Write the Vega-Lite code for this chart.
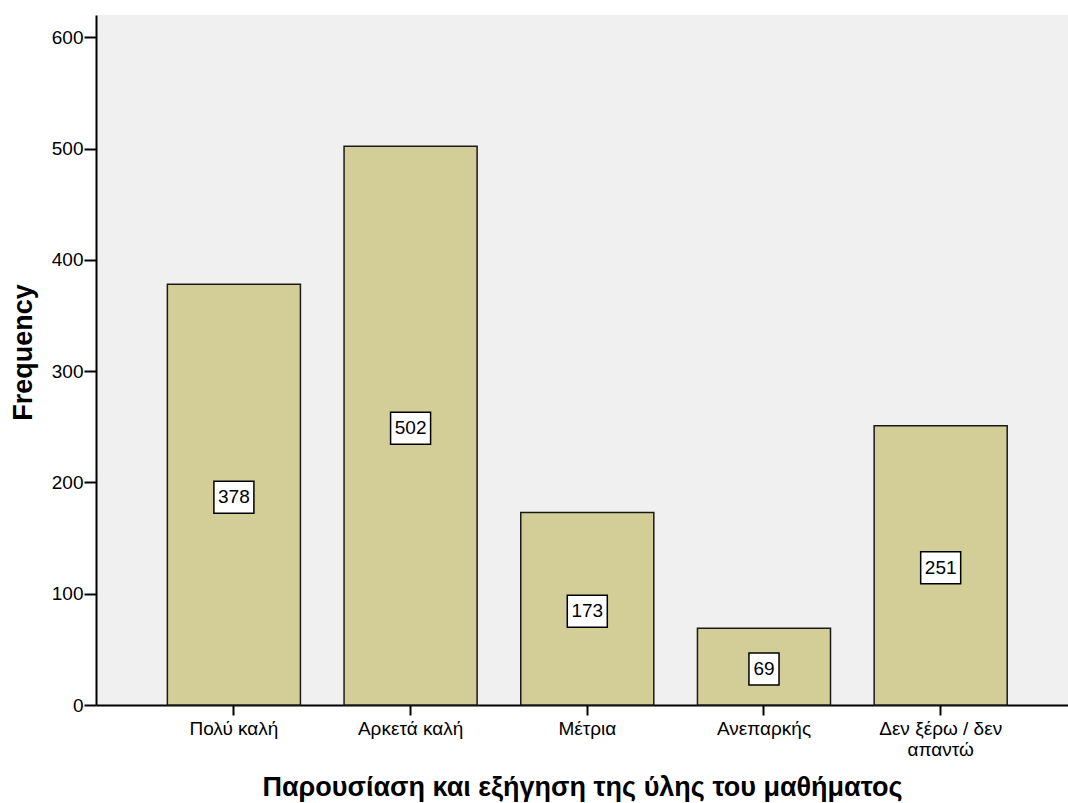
{
  "$schema": "https://vega.github.io/schema/vega-lite/v6.json",
  "width": 972,
  "height": 690,
  "autosize": {"type": "none"},
  "padding": {"left": 96, "top": 15, "right": 0, "bottom": 98},
  "background": "white",
  "config": {
    "view": {"fill": "#F0F0F0", "stroke": null},
    "font": "Liberation Sans"
  },
  "data": {
    "values": [
      {"category": "Πολύ καλή", "value": 378},
      {"category": "Αρκετά καλή", "value": 502},
      {"category": "Μέτρια", "value": 173},
      {"category": "Ανεπαρκής", "value": 69},
      {"category": "Δεν ξέρω / δεν απαντώ", "value": 251}
    ]
  },
  "layer": [
    {
      "mark": {"type": "bar", "fill": "#D3CE97", "stroke": "#1a1a1a", "strokeWidth": 1.5},
      "encoding": {
        "x": {
          "field": "category",
          "type": "nominal",
          "sort": null,
          "scale": {"paddingInner": 0.247, "paddingOuter": 0.374, "align": 0.54},
          "axis": {
            "labelAngle": 0,
            "labelFontSize": 19,
            "labelColor": "black",
            "labelPadding": 4,
            "labelLimit": 0,
            "labelLineHeight": 21,
            "labelExpr": "datum.value == 'Δεν ξέρω / δεν απαντώ' ? ['Δεν ξέρω / δεν', 'απαντώ'] : datum.label",
            "domainColor": "black",
            "domainWidth": 2,
            "tickColor": "black",
            "tickWidth": 2,
            "tickSize": 10,
            "title": "Παρουσίαση και εξήγηση της ύλης του μαθήματος",
            "titleFontSize": 27,
            "titleFontWeight": "bold",
            "titleColor": "black",
            "titlePadding": 15
          }
        },
        "y": {
          "field": "value",
          "type": "quantitative",
          "scale": {"domain": [0, 620], "nice": false},
          "axis": {
            "values": [0, 100, 200, 300, 400, 500, 600],
            "grid": false,
            "labelFontSize": 19,
            "labelColor": "black",
            "labelPadding": 1,
            "domainColor": "black",
            "domainWidth": 2,
            "tickColor": "black",
            "tickWidth": 2,
            "tickSize": 12,
            "title": "Frequency",
            "titleFontSize": 27,
            "titleFontWeight": "bold",
            "titleColor": "black",
            "titlePadding": 14,
            "titleY": 337
          }
        }
      }
    },
    {
      "layer": [
        {
          "mark": {"type": "point", "filled": true, "fill": "white", "stroke": "black", "strokeWidth": 1.5, "opacity": 1, "size": 1024, "yOffset": 2.5},
          "encoding": {
            "shape": {
              "condition": {"test": "datum.value < 100", "value": "M-0.94,-1H0.94V1H-0.94Z"},
              "value": "M-1.25,-1H1.25V1H-1.25Z"
            }
          }
        },
        {
          "mark": {"type": "text", "fontSize": 19, "color": "black", "baseline": "middle", "align": "center", "yOffset": 2.5},
          "encoding": {"text": {"field": "value", "type": "quantitative"}}
        }
      ],
      "encoding": {
        "x": {"field": "category", "type": "nominal", "sort": null},
        "y": {"field": "value", "type": "quantitative", "scale": {"domain": [0, 1240], "nice": false}, "axis": null}
      }
    }
  ],
  "resolve": {"scale": {"y": "independent"}}
}
